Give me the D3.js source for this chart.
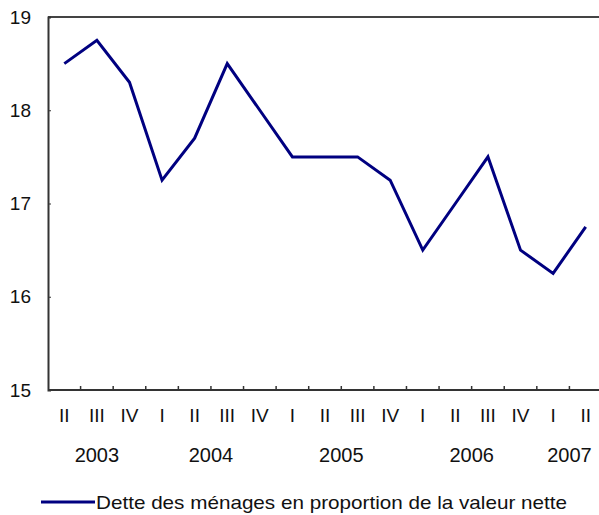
<!DOCTYPE html>
<html>
<head>
<meta charset="utf-8">
<script src="https://cdn.jsdelivr.net/npm/d3@7"></script>
<style>
body { margin: 0; background: #fff; }
text { font-family: Arial, "Liberation Sans", sans-serif; fill: #111; }
</style>
</head>
<body>
<div id="chart"></div>
<script>
var quarters = ["II","III","IV","I","II","III","IV","I","II","III","IV","I","II","III","IV","I","II"];
var years = [
    {label: "2003", from: 0, to: 2},
    {label: "2004", from: 3, to: 6},
    {label: "2005", from: 7, to: 10},
    {label: "2006", from: 11, to: 14},
    {label: "2007", from: 15, to: 16}
];
var values = [18.5, 18.75, 18.3, 17.25, 17.7, 18.5, 18.0, 17.5, 17.5, 17.5, 17.25, 16.5, 17.0, 17.5, 16.5, 16.25, 16.75];
var yTicks = [15, 16, 17, 18, 19];
var seriesName = "Dette des ménages en proportion de la valeur nette";

var W = 599, H = 515;
var mLeft = 48, mTop = 17, mBottom = 390, mRight = 602;

var svg = d3.select("#chart").append("svg").attr("width", W).attr("height", H);

var x = d3.scaleBand().domain(d3.range(quarters.length)).range([mLeft, mRight]).padding(0);
var y = d3.scaleLinear().domain([15, 19]).range([mBottom, mTop]);

// top border
svg.append("line").attr("x1", mLeft).attr("x2", W).attr("y1", mTop).attr("y2", mTop)
    .attr("stroke", "#444").attr("stroke-width", 2);

// y axis
var yAxis = svg.append("g").attr("transform", "translate(" + mLeft + ",0)")
    .call(d3.axisRight(y).tickValues(yTicks).tickSize(3).tickFormat(""));
yAxis.select(".domain").attr("stroke", "#333").attr("stroke-width", 2);
yAxis.selectAll(".tick line").attr("stroke", "#333");

svg.selectAll(".ylab").data(yTicks).enter().append("text")
    .attr("class", "ylab")
    .attr("x", 31).attr("y", function (d) { return y(d); })
    .attr("dy", "0.35em").attr("text-anchor", "end")
    .attr("font-size", 19).text(function (d) { return d; });

// x axis
var xAxis = svg.append("g").attr("transform", "translate(0," + mBottom + ")");
xAxis.append("line").attr("x1", mLeft).attr("x2", W).attr("y1", 0).attr("y2", 0)
    .attr("stroke", "#333").attr("stroke-width", 2);
xAxis.selectAll(".xt").data(d3.range(1, quarters.length)).enter().append("line")
    .attr("x1", function (i) { return x(i); }).attr("x2", function (i) { return x(i); })
    .attr("y1", 0).attr("y2", -4).attr("stroke", "#333").attr("stroke-width", 1.5);

svg.selectAll(".qlab").data(quarters).enter().append("text")
    .attr("class", "qlab")
    .attr("x", function (d, i) { return x(i) + x.bandwidth() / 2; })
    .attr("y", 415).attr("dy", "0.35em").attr("text-anchor", "middle")
    .attr("font-size", 19)
    .text(function (d) { return d; });

svg.selectAll(".yrlab").data(years).enter().append("text")
    .attr("class", "yrlab")
    .attr("x", function (d) { return (x(d.from) + x(d.to) + x.bandwidth()) / 2; })
    .attr("y", 455).attr("dy", "0.35em").attr("text-anchor", "middle")
    .attr("font-size", 20).text(function (d) { return d.label; });

// series line
var line = d3.line()
    .x(function (d, i) { return x(i) + x.bandwidth() / 2; })
    .y(function (d) { return y(d); });

svg.append("path").datum(values).attr("d", line)
    .attr("fill", "none").attr("stroke", "#000080").attr("stroke-width", 3)
    .attr("stroke-linejoin", "miter");

// legend
svg.append("line").attr("x1", 41).attr("x2", 95).attr("y1", 502).attr("y2", 502)
    .attr("stroke", "#000080").attr("stroke-width", 3);
svg.append("text").attr("x", 96).attr("y", 502).attr("dy", "0.35em")
    .attr("font-size", 19).attr("textLength", 471).attr("lengthAdjust", "spacingAndGlyphs")
    .text(seriesName);
</script>
</body>
</html>
